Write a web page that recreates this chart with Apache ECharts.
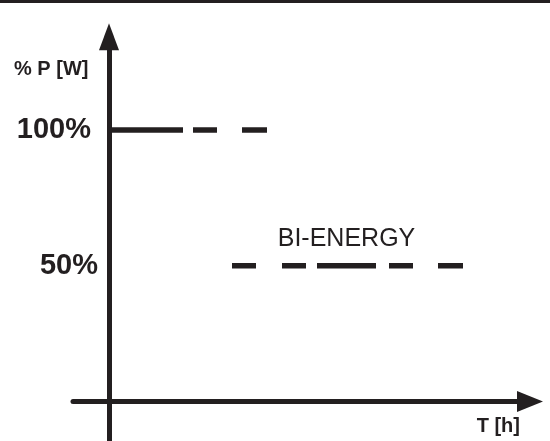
<!DOCTYPE html>
<html>
<head>
<meta charset="utf-8">
<script src="https://cdn.jsdelivr.net/npm/echarts@6/dist/echarts.min.js"></script>
<style>
  html, body { margin: 0; padding: 0; background: #fff; }
  #chart { width: 550px; height: 441px; }
</style>
</head>
<body>
<div id="chart"></div>
<script>
// power levels (% P) and the time spans [start, end] in hours where each one is drawn
var fullLevel = 100;
var fullSegments = [[0, 7.4], [8.4, 10.8], [13.3, 15.8]];
var biLevel = 50;
var biSegments = [[12.3, 14.7], [17.3, 19.7], [20.8, 26.7], [28.0, 30.4], [32.9, 35.4]];
var biLabel = 'BI-ENERGY';
var biLabelAt = 23.75;
var yTicks = [50, 100];

var ink = '#231f20';
var font = "'Liberation Sans', Arial, Helvetica, sans-serif";

var chart = echarts.init(document.getElementById('chart'));

var series = [];
function addSegments(segs, level) {
  segs.forEach(function (s) {
    series.push({
      type: 'line',
      data: [[s[0], level], [s[1], level]],
      showSymbol: false,
      silent: true,
      lineStyle: { color: ink, width: 5.5, cap: 'butt' }
    });
  });
}
addSegments(fullSegments, fullLevel);
addSegments(biSegments, biLevel);

series.push({
  type: 'scatter',
  symbolSize: 0,
  silent: true,
  itemStyle: { opacity: 1, color: ink },
  data: [[biLabelAt, biLevel]],
  label: {
    show: true,
    position: 'top',
    distance: 14,
    formatter: biLabel,
    color: ink,
    opacity: 1,
    fontFamily: font,
    fontSize: 25
  }
});

chart.setOption({
  animation: false,
  grid: { left: 73, right: 20, top: 36.8, bottom: 0, containLabel: false, outerBoundsMode: 'none' },
  xAxis: {
    type: 'value',
    min: -3.6,
    max: 42.1,
    axisLine: {
      onZero: true,
      symbol: ['none', 'triangle'],
      symbolSize: [21, 26],
      lineStyle: { color: ink, width: 5 }
    },
    axisTick: { show: false },
    axisLabel: { show: false },
    splitLine: { show: false }
  },
  yAxis: {
    type: 'value',
    min: -14.55,
    max: 134.33,
    axisLine: {
      show: true,
      onZero: true,
      symbol: ['none', 'triangle'],
      symbolSize: [20, 27],
      lineStyle: { color: ink, width: 5 }
    },
    axisTick: { show: false },
    splitLine: { show: false },
    axisLabel: {
      customValues: yTicks,
      margin: -25,
      formatter: function (v) {
        return v === 100 ? '{a|' + v + '%}' : '{b|' + v + '%}';
      },
      rich: {
        a: { fontSize: 29, fontWeight: 'bold', fontFamily: font, color: ink, padding: [0, 7, 0, 0] },
        b: { fontSize: 29, fontWeight: 'bold', fontFamily: font, color: ink }
      }
    }
  },
  graphic: [
    { type: 'rect', shape: { x: 0, y: 0, width: 550, height: 3 }, style: { fill: ink } },
    {
      type: 'text', left: 14, top: 59,
      style: { text: '% P [W]', font: 'bold 20px ' + font, fill: ink }
    },
    {
      type: 'text', right: 30, top: 416,
      style: { text: 'T [h]', font: 'bold 20px ' + font, fill: ink }
    }
  ],
  series: series
});
</script>
</body>
</html>
